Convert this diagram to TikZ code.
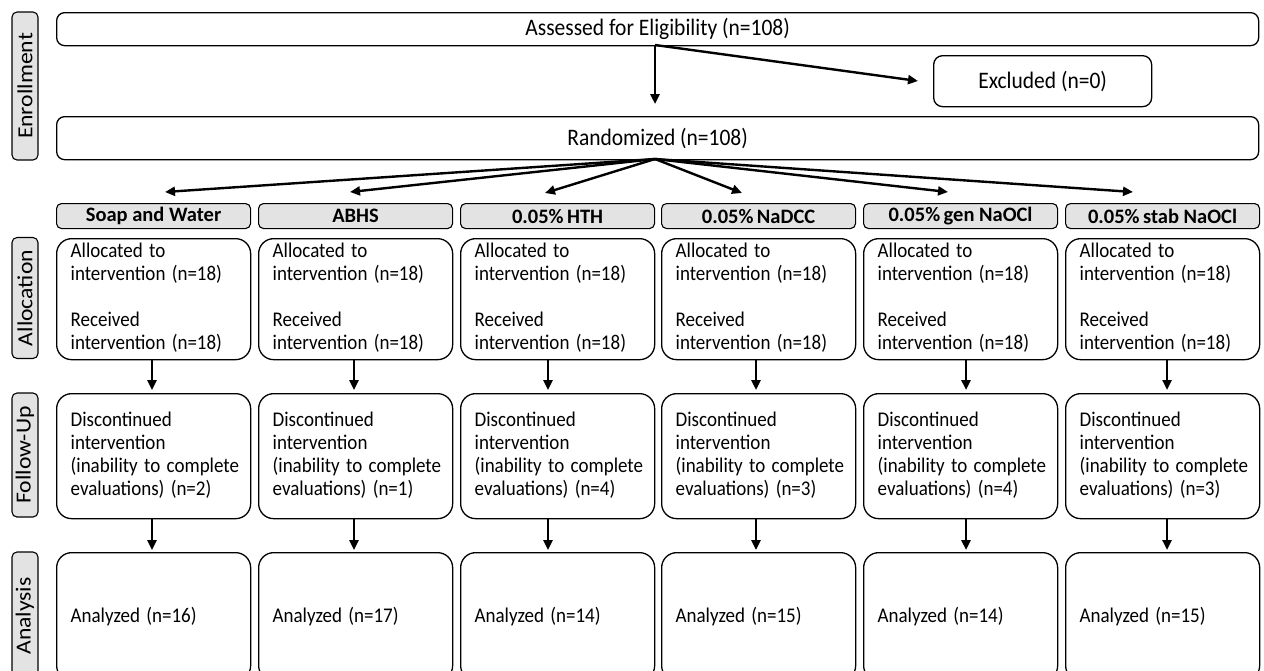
\documentclass[tikz,border=0pt]{standalone}
\usepackage{fontspec}
\usepackage{graphicx}
\setmainfont{Carlito}
\usetikzlibrary{arrows.meta}
\newcommand{\vs}[1]{\scalebox{1}[1.1]{#1}}
\newcommand{\hs}[1]{\scalebox{1.1}[1]{#1}}
\newcommand{\lines}[1]{\vs{\begin{tabular}{@{}l@{}}#1\end{tabular}}}
\newcommand{\pct}{\%\hspace{3.5pt}}
\begin{document}
\begin{tikzpicture}[x=1pt,y=-1pt,
  wide/.style={draw, line width=1.3pt, rounded corners=8pt, inner sep=0pt, anchor=north west, minimum width=1202pt, font=\fontsize{21.5}{24}\selectfont},
  cbox/.style={draw, line width=1.3pt, rounded corners=15pt, inner xsep=14pt, inner ysep=0pt, anchor=north west, text width=166pt, minimum width=194pt, align=left, font=\fontsize{19}{20.8}\selectfont},
  hbox/.style={draw, line width=1.1pt, rounded corners=5pt, fill=gray!22, inner sep=0pt, anchor=north west, minimum width=194pt, minimum height=25pt, font=\fontsize{20.5}{22}\selectfont\bfseries},
  side/.style={draw, line width=1.1pt, rounded corners=5pt, fill=gray!22, inner sep=0pt, rotate=90, minimum height=26pt, font=\fontsize{21.5}{24}\selectfont},
  arr/.style={line width=2.4pt, -{Triangle[length=10pt,width=9pt]}}
]
\useasboundingbox (0,0) rectangle (1264,670);
\clip (0,0) rectangle (1264,670);

% side labels
\node[side, minimum width=148pt] (sEn) at (25,86) {\hs{Enrollment}};
\node[side, minimum width=121pt] (sAl) at (25,298) {\hs{Allocation}};
\node[side, minimum width=124pt] (sFu) at (25,455) {\hs{Follow-Up}};
\node[side, minimum width=128pt] (sAn) at (25,616) {\hs{Analysis}};

% enrollment
\node[wide, minimum height=33pt] (assess) at (56,12) {\vs{Assessed for Eligibility (n=108)}};
\node[draw, line width=1.3pt, rounded corners=9pt, anchor=north west, minimum width=218pt, minimum height=51pt, font=\fontsize{21.5}{24}\selectfont] (excl) at (933,55) {\vs{Excluded (n=0)}};
\node[wide, minimum height=43pt] (rand) at (56,116) {\vs{Randomized (n=108)}};

\coordinate (aOut) at (655,45);
\coordinate (rIn) at (655,104);
\coordinate (xIn) at (918,81);
\draw[arr] (aOut) -- (rIn);
\draw[arr] (aOut) -- (xIn);

\coordinate (rOut) at (655,159);

% columns
\foreach \i/\x/\ax/\tx/\ty/\hd/\fu/\an in {
  1/56/152/165/192/{Soap and Water}/2/16,
  2/258/354/350/192/{ABHS}/1/17,
  3/460/548/545/193/{0.05\pct{}HTH}/4/14,
  4/661/756/742/193/{0.05\pct{}NaDCC}/3/15,
  5/863/966/948/192/{0.05\pct{}gen NaOCl}/4/14,
  6/1065/1167/1133/192/{0.05\pct{}stab NaOCl}/3/15}{
  \node[hbox] (h\i) at (\x,203) {\hd};
  \node[cbox, minimum height=121pt] (al\i) at (\x,238) {\lines{Allocated to\\intervention (n=18)\\[20.8pt]Received\\intervention (n=18)}};
  \node[cbox, minimum height=125pt] (fu\i) at (\x,393) {\lines{Discontinued\\intervention\\(inability to complete\\evaluations) (n=\fu)}};
  \node[cbox, minimum height=128pt] (an\i) at (\x,552) {\vs{Analyzed (n=\an)}};
  \coordinate (t\i) at (\tx,\ty);
  \draw[arr] (rOut) -- (t\i);
  \coordinate (c\i) at (\ax,0);
  \draw[arr] (al\i.south -| c\i) -- ([yshift=3pt]fu\i.north -| c\i);
  \draw[arr] (fu\i.south -| c\i) -- ([yshift=2pt]an\i.north -| c\i);
}
\end{tikzpicture}
\end{document}
